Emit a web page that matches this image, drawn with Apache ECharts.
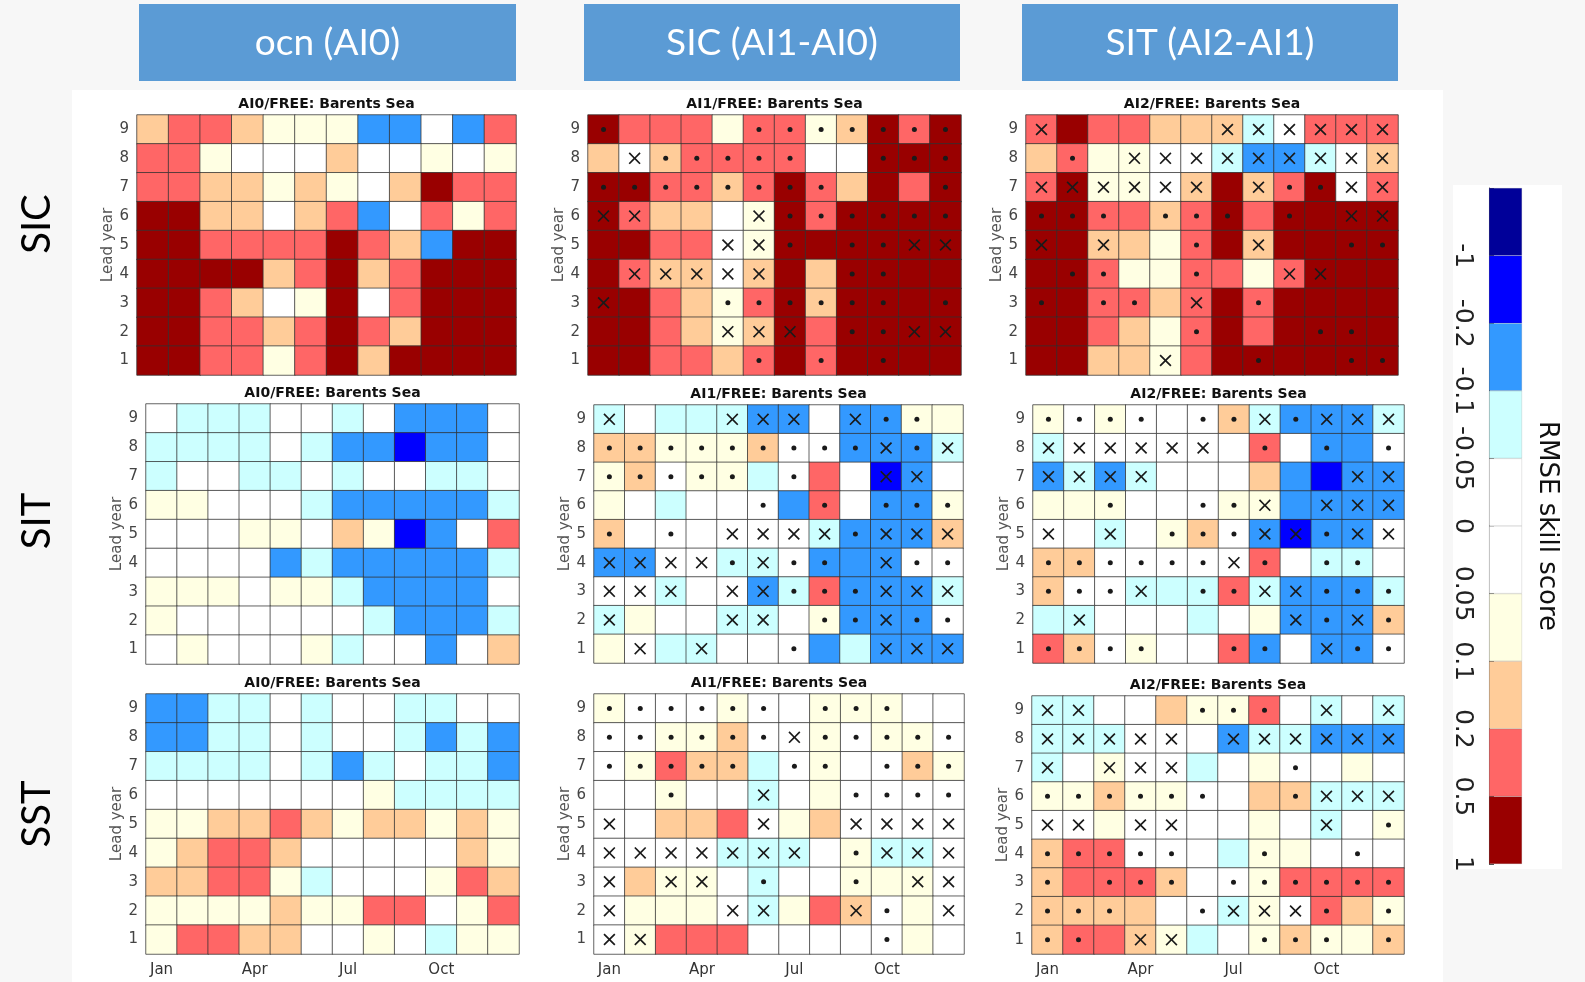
<!DOCTYPE html>
<html><head><meta charset="utf-8">
<script src="https://cdn.jsdelivr.net/npm/echarts@6/dist/echarts.min.js"></script>
<style>html,body{margin:0;padding:0;background:#f7f7f7}#c{width:1585px;height:982px}</style>
</head><body><div id="c"></div>
<script>
const months = ['Jan','Feb','Mar','Apr','May','Jun','Jul','Aug','Sep','Oct','Nov','Dec'];
const leadYears = ['1','2','3','4','5','6','7','8','9'];
const columnHeaders = ['ocn (AI0)', 'SIC (AI1-AI0)', 'SIT (AI2-AI1)'];
const rowLabels = ['SIC', 'SIT', 'SST'];
const panelTitles = ['AI0/FREE: Barents Sea', 'AI1/FREE: Barents Sea', 'AI2/FREE: Barents Sea'];
const colorbarTicks = ['-1', '-0.2', '-0.1', '-0.05', '0', '0.05', '0.1', '0.2', '0.5', '1'];
const colorbarColors = ['#000099', '#0000ff', '#3399ff', '#ccffff', '#ffffff', '#ffffff', '#ffffe3', '#ffcc99', '#ff6666', '#990000'];
const colorbarBounds = [-2, -1, -0.2, -0.1, -0.05, 0, 0.05, 0.1, 0.2, 0.5, 1];

// RMSE skill score, rows = lead year 9 (top) ... 1 (bottom), columns Jan..Dec
const sicAI0 = [
 [0.15,0.3,0.3,0.15,0.07,0.07,0.07,-0.15,-0.15,0,-0.15,0.3],
 [0.3,0.3,0.07,0,0,0,0.15,0,0,0.07,0,0.07],
 [0.3,0.3,0.15,0.15,0.07,0.15,0.07,0,0.15,0.7,0.3,0.3],
 [0.7,0.7,0.15,0.15,0,0.15,0.3,-0.15,0,0.3,0.07,0.3],
 [0.7,0.7,0.3,0.3,0.3,0.3,0.7,0.3,0.15,-0.15,0.7,0.7],
 [0.7,0.7,0.7,0.7,0.15,0.3,0.7,0.15,0.3,0.7,0.7,0.7],
 [0.7,0.7,0.3,0.15,0,0.07,0.7,0,0.3,0.7,0.7,0.7],
 [0.7,0.7,0.3,0.3,0.15,0.3,0.7,0.3,0.15,0.7,0.7,0.7],
 [0.7,0.7,0.3,0.3,0.07,0.3,0.7,0.15,0.7,0.7,0.7,0.7]
];
const sicAI1 = [
 [0.7,0.3,0.3,0.3,0.07,0.3,0.3,0.07,0.15,0.7,0.3,0.7],
 [0.15,0,0.15,0.3,0.3,0.3,0.3,0,0,0.7,0.7,0.7],
 [0.7,0.7,0.3,0.3,0.15,0.3,0.7,0.3,0.15,0.7,0.3,0.7],
 [0.7,0.3,0.15,0.15,0,0.07,0.7,0.3,0.7,0.7,0.7,0.7],
 [0.7,0.7,0.3,0.3,0,0.07,0.7,0.7,0.7,0.7,0.7,0.7],
 [0.7,0.3,0.15,0.15,0,0.15,0.7,0.15,0.7,0.7,0.7,0.7],
 [0.7,0.7,0.3,0.15,0.07,0.3,0.7,0.15,0.7,0.7,0.7,0.7],
 [0.7,0.7,0.3,0.15,0.07,0.15,0.7,0.3,0.7,0.7,0.7,0.7],
 [0.7,0.7,0.3,0.3,0.15,0.3,0.7,0.3,0.7,0.7,0.7,0.7]
];
const sicAI1Marks = ['.----.......','-x.....--...','........---.','xx---x......','----xx.-..xx','-xxxxx--..--','x---......-.','----xxx-..xx','-----.-.-.--'];
const sicAI2 = [
 [0.3,0.7,0.3,0.3,0.15,0.15,0.15,-0.07,0,0.3,0.3,0.3],
 [0.15,0.3,0.07,0.07,0,0,-0.07,-0.15,-0.15,-0.07,0,0.15],
 [0.3,0.7,0.07,0.07,0,0.15,0.7,0.15,0.3,0.7,0,0.3],
 [0.7,0.7,0.3,0.3,0.15,0.3,0.7,0.3,0.7,0.7,0.7,0.7],
 [0.7,0.7,0.15,0.15,0.07,0.3,0.7,0.15,0.7,0.7,0.7,0.7],
 [0.7,0.7,0.3,0.07,0.07,0.3,0.3,0.07,0.3,0.7,0.7,0.7],
 [0.7,0.7,0.3,0.3,0.15,0.3,0.7,0.3,0.7,0.7,0.7,0.7],
 [0.7,0.7,0.3,0.15,0.07,0.3,0.7,0.3,0.7,0.7,0.7,0.7],
 [0.7,0.7,0.15,0.15,0.07,0.3,0.7,0.7,0.7,0.7,0.7,0.7]
];
const sicAI2Marks = ['x-----xxxxxx','-.-xxxxxxxxx','xxxxxx-x..xx','...-...-.-xx','x-x--.-x--..','-..--.--xx--','.-..-x-.----','-----.---..-','----x--.--..'];
const sitAI0 = [
 [0,-0.07,-0.07,-0.07,0,0,-0.07,0,-0.15,-0.15,-0.15,0],
 [-0.07,-0.07,-0.07,-0.07,0,-0.07,-0.15,-0.15,-0.5,-0.15,-0.15,0],
 [-0.07,0,0,-0.07,-0.07,0,-0.07,0,0,-0.07,-0.07,0],
 [0.07,0.07,0,0,0,-0.07,-0.15,-0.15,-0.15,-0.15,-0.15,-0.07],
 [0,0,0,0.07,0.07,0,0.15,0.07,-0.5,-0.15,0,0.3],
 [0,0,0,0,-0.15,-0.07,-0.15,-0.15,-0.15,-0.15,-0.15,-0.07],
 [0.07,0.07,0.07,0,0.07,0.07,-0.07,-0.15,-0.15,-0.15,-0.15,0],
 [0.07,0,0,0,0,0,0,-0.07,-0.15,-0.15,-0.15,-0.07],
 [0,0.07,0,0,0,0.07,-0.07,0,0,-0.15,0,0.15]
];
const sitAI1 = [
 [-0.07,0,-0.07,-0.07,-0.07,-0.15,-0.15,0,-0.15,-0.15,0.07,0.07],
 [0.15,0.15,0.07,0.07,0.07,0.15,0,0,-0.15,-0.15,-0.15,-0.07],
 [0.07,0.15,0,0.07,0.07,-0.07,0,0.3,0,-0.5,-0.15,0],
 [0.07,0,-0.07,0,0,0,-0.15,0.3,0,-0.15,-0.15,0.07],
 [0.15,0,0,0,0,0,0,-0.07,-0.15,-0.15,-0.15,0.15],
 [-0.15,-0.15,0,0,-0.07,-0.07,0,-0.15,-0.15,-0.15,0,0],
 [0,0,-0.07,0,0,-0.15,-0.07,0.3,-0.15,-0.15,-0.15,-0.07],
 [-0.07,0.07,0,0,-0.07,-0.07,0,0.07,-0.15,-0.15,-0.15,0],
 [0.07,0,-0.07,-0.07,0,0,0,-0.15,-0.07,-0.15,-0.15,-0.15]
];
const sitAI1Marks = ['x---xxx-x..-','.........x.x','.....-.--xx-','-----.-.-...','.-.-xxxx.xxx','xxxx.x..-x..','xxx-xx...xxx','x---xx-..x..','-x-x--.--xxx'];
const sitAI2 = [
 [0.07,0,0.07,0,0,0,0.15,-0.07,-0.15,-0.15,-0.15,-0.07],
 [-0.07,0,0,0,0,0,0,0.3,0,-0.15,-0.15,0],
 [-0.15,-0.07,-0.15,-0.07,0,0,0,0.15,-0.15,-0.5,-0.15,-0.15],
 [0.07,0.07,0.07,0,0,0,0.07,0.07,-0.15,-0.15,-0.15,-0.15],
 [0,0,-0.07,0,0.07,0.15,0,-0.15,-0.5,-0.15,-0.15,0],
 [0.15,0.15,0,0,0,0,0,0.3,0,-0.07,-0.07,0],
 [0.15,0,0,-0.07,-0.07,-0.07,0.3,-0.07,-0.15,-0.15,-0.15,-0.07],
 [-0.07,-0.07,0,0,0,-0.07,0,0.07,-0.15,-0.15,-0.15,0.15],
 [0.3,0.15,0,0.07,0,0,0.3,-0.15,0,-0.15,-0.15,0]
];
const sitAI2Marks = ['....-..x.xxx','xxxxxx-.-.-.','xxxx------xx','--.--..x-xxx','x-x-...xx.xx','......x.-..-','...x-..xx...','-x------x.x.','....--..-x..'];
const sstAI0 = [
 [-0.15,-0.15,-0.07,-0.07,0,-0.07,0,0,-0.07,-0.07,0,0],
 [-0.15,-0.15,-0.07,-0.07,0,-0.07,0,0,-0.07,-0.15,-0.07,-0.15],
 [-0.07,-0.07,-0.07,-0.07,0,-0.07,-0.15,-0.07,0,-0.07,-0.07,-0.15],
 [0,0,0,0,0,0,0,0.07,-0.07,-0.07,-0.07,-0.07],
 [0.07,0.07,0.15,0.15,0.3,0.15,0.07,0.15,0.15,0.07,0.15,0.07],
 [0.07,0.15,0.3,0.3,0.15,0,0,0,0,0,0.15,0.07],
 [0.15,0.15,0.3,0.3,0.07,-0.07,0,0,0,0.07,0.3,0.15],
 [0.07,0.07,0.07,0.07,0.15,0.07,0.07,0.3,0.3,0,0.07,0.3],
 [0.07,0.3,0.3,0.15,0.15,0,0,0.07,0,-0.07,0.07,0.07]
];
const sstAI1 = [
 [0.07,0,0,0,0.07,0,0,0.07,0.07,0.07,0,0],
 [0,0,0.07,0.07,0.15,0,0,0.07,0,0.07,0.07,0],
 [0,0.07,0.3,0.15,0.15,-0.07,0,0.07,0,0,0.15,0.07],
 [0,0,0.07,0,0,-0.07,0,0.07,0,0,0,0],
 [0,0,0.15,0.15,0.3,0,0.07,0.15,0,0,0,0],
 [0,0,0,0,-0.07,-0.07,-0.07,0,0.07,-0.07,-0.07,0],
 [0,0.15,0.07,0.07,0,-0.07,0,0,0.07,0.07,0.07,0],
 [0,0.07,0.07,0.07,0,-0.07,0.07,0.3,0.15,0,0.07,0],
 [0,0.07,0.3,0.3,0.3,0,0,0,0,0,0.07,0]
];
const sstAI1Marks = ['......-...--','......x.....','.....-..-...','--.--x--....','x----x--xxxx','xxxxxxx-.xxx','x-xx-.--.-xx','x---xx--x.-x','xx-------.--'];
const sstAI2 = [
 [-0.07,-0.07,0,0,0.15,0.07,0.07,0.3,0,-0.07,0,-0.07],
 [-0.07,-0.07,-0.07,0,0,0,-0.15,-0.07,-0.07,-0.15,-0.15,-0.15],
 [-0.07,0,0.07,0,0,-0.07,0,0.07,0,0,0.07,0],
 [0.07,0.07,0.15,0.07,0.07,0,0,0.15,0.15,-0.07,-0.07,-0.07],
 [0,0,0.07,0,0,0,0,0.07,0,-0.07,0,0.07],
 [0.15,0.3,0.3,0,0,0,-0.07,0.07,0.07,0,0,0],
 [0.15,0.3,0.3,0.3,0.15,0,0,0.07,0.3,0.3,0.3,0.3],
 [0.15,0.15,0.15,0.15,0,0,-0.07,0.07,0,0.3,0.15,0.07],
 [0.15,0.3,0.3,0.15,0.07,-0.07,0,0.07,0.15,0.07,0.07,0.15]
];
const sstAI2Marks = ['xx---...-x-x','xxxxx-xxxxxx','x-xxx---.---','......--.xxx','xx-xx----x-.','.....--.--.-','.-...-......','...--.xxx.-.','..-xx--...-.'];

// layout (pixels)
const panels = [
  {vals: sicAI0, marks: null, row: 0, col: 0, g: {left: 137, top: 115, width: 379, height: 260}},
  {vals: sicAI1, marks: sicAI1Marks, row: 0, col: 1, g: {left: 588, top: 115, width: 373, height: 260}},
  {vals: sicAI2, marks: sicAI2Marks, row: 0, col: 2, g: {left: 1026, top: 115, width: 372, height: 260}},
  {vals: sitAI0, marks: null, row: 1, col: 0, g: {left: 146, top: 404, width: 373, height: 260}},
  {vals: sitAI1, marks: sitAI1Marks, row: 1, col: 1, g: {left: 594, top: 405, width: 369, height: 258}},
  {vals: sitAI2, marks: sitAI2Marks, row: 1, col: 2, g: {left: 1033, top: 405, width: 371, height: 258}},
  {vals: sstAI0, marks: null, row: 2, col: 0, g: {left: 146, top: 694, width: 373, height: 260}},
  {vals: sstAI1, marks: sstAI1Marks, row: 2, col: 1, g: {left: 594, top: 694, width: 370, height: 260}},
  {vals: sstAI2, marks: sstAI2Marks, row: 2, col: 2, g: {left: 1032, top: 696, width: 372, height: 258}}
];

const CROSS = 'path://M0,1L1,0L5,4L9,0L10,1L6,5L10,9L9,10L5,6L1,10L0,9L4,5Z';
const FONT = 'DejaVu Sans';

const grid = [], xAxis = [], yAxis = [], series = [], heatIdx = [], graphic = [];

graphic.push({type: 'rect', z: -10, shape: {x: 72, y: 90, width: 1371, height: 892}, style: {fill: '#ffffff'}});
graphic.push({type: 'rect', z: -10, shape: {x: 1453, y: 185, width: 109, height: 684}, style: {fill: '#ffffff'}});

panels.forEach((p, k) => {
  grid.push(Object.assign({containLabel: false}, p.g));
  xAxis.push({
    type: 'category', gridIndex: k, data: months,
    axisLine: {show: false}, axisTick: {show: false}, splitLine: {show: false},
    axisLabel: {show: p.row === 2, interval: (i) => i % 3 === 0, fontSize: 15, color: '#333', margin: 9, fontFamily: FONT}
  });
  yAxis.push({
    type: 'category', gridIndex: k, data: leadYears,
    axisLine: {show: false}, axisTick: {show: false}, splitLine: {show: false},
    axisLabel: {fontSize: 15, color: '#444', margin: 8, fontFamily: FONT},
    name: 'Lead year', nameLocation: 'middle', nameGap: 19,
    nameTextStyle: {fontSize: 15, color: '#555', fontFamily: FONT}
  });
  const heat = [];
  const dots = [];
  p.vals.forEach((rowVals, r) => {
    rowVals.forEach((v, c) => {
      heat.push([c, 8 - r, v]);
      if (p.marks) {
        const ch = p.marks[r][c];
        if (ch === '.') dots.push({value: [c, 8 - r], symbol: 'circle', symbolSize: 5});
        else if (ch === 'x') dots.push({value: [c, 8 - r], symbol: CROSS, symbolSize: 12});
      }
    });
  });
  heatIdx.push(series.length);
  series.push({
    type: 'heatmap', xAxisIndex: k, yAxisIndex: k, data: heat, silent: true,
    itemStyle: {borderColor: 'rgba(50,50,50,0.75)', borderWidth: 1}
  });
  series.push({
    type: 'scatter', xAxisIndex: k, yAxisIndex: k, data: dots, silent: true, z: 5,
    itemStyle: {color: '#1a1a1a', opacity: 1}
  });
  const cx = p.g.left + p.g.width / 2;
  graphic.push({
    type: 'text', x: cx, y: p.g.top - 11,
    style: {text: panelTitles[p.col], fontSize: 14, fontWeight: 'bold', fontFamily: FONT, fill: '#111',
      align: 'center', verticalAlign: 'middle', textAlign: 'center', textVerticalAlign: 'middle'}
  });
});

// colorbar
const cbIndex = grid.length;
grid.push({left: 1489, top: 188, width: 33, height: 676});
xAxis.push({type: 'category', gridIndex: cbIndex, data: ['cb'], show: false});
yAxis.push({
  type: 'value', gridIndex: cbIndex, min: 0, max: 10, interval: 1, inverse: true,
  axisLine: {show: true, lineStyle: {color: '#555', width: 1}},
  axisTick: {show: true, inside: true, length: 5, lineStyle: {color: '#555'}},
  splitLine: {show: false},
  axisLabel: {rotate: -90, fontSize: 25, color: '#222', margin: 14, fontFamily: FONT,
    formatter: (v) => v === 0 ? '' : colorbarTicks[v - 1]}
});
colorbarColors.forEach((c, i) => {
  series.push({
    type: 'bar', xAxisIndex: cbIndex, yAxisIndex: cbIndex, stack: 'cb', barWidth: '100%', silent: true,
    name: colorbarBounds[i] + '..' + colorbarBounds[i + 1],
    data: [1], itemStyle: {color: c, borderColor: 'rgba(80,80,80,0.3)', borderWidth: 0.5}
  });
});

// headers
const headerBoxes = [[139, 516], [584, 960], [1022, 1398]];
columnHeaders.forEach((t, i) => {
  const x0 = headerBoxes[i][0], x1 = headerBoxes[i][1];
  graphic.push({type: 'rect', shape: {x: x0, y: 4, width: x1 - x0, height: 77}, style: {fill: '#5b9bd5'}});
  graphic.push({type: 'text', x: (x0 + x1) / 2, y: 43,
    style: {text: t, fontSize: 37, fontFamily: 'Lato', fill: '#ffffff',
      align: 'center', verticalAlign: 'middle', textAlign: 'center', textVerticalAlign: 'middle'}});
});
const rowY = [224, 521, 814];
rowLabels.forEach((t, i) => {
  graphic.push({type: 'text', x: 37, y: rowY[i], rotation: Math.PI / 2,
    style: {text: t, fontSize: 40, fontFamily: 'Lato', fill: '#000',
      align: 'center', verticalAlign: 'middle', textAlign: 'center', textVerticalAlign: 'middle'}});
});
graphic.push({type: 'text', x: 1547, y: 526, rotation: -Math.PI / 2,
  style: {text: 'RMSE skill score', fontSize: 26, fontFamily: FONT, fill: '#111',
    align: 'center', verticalAlign: 'middle', textAlign: 'center', textVerticalAlign: 'middle'}});

const pieces = [];
for (let i = 0; i < colorbarColors.length; i++) {
  const pc = {color: colorbarColors[i]};
  if (i > 0) pc.gte = colorbarBounds[i];
  if (i < colorbarColors.length - 1) pc.lt = colorbarBounds[i + 1];
  pieces.push(pc);
}

const chart = echarts.init(document.getElementById('c'), null, {renderer: 'canvas'});
chart.setOption({
  animation: false,
  backgroundColor: '#f7f7f7',
  grid, xAxis, yAxis, series,
  visualMap: {type: 'piecewise', show: false, dimension: 2, seriesIndex: heatIdx, pieces},
  graphic: {elements: graphic}
});
</script></body></html>
